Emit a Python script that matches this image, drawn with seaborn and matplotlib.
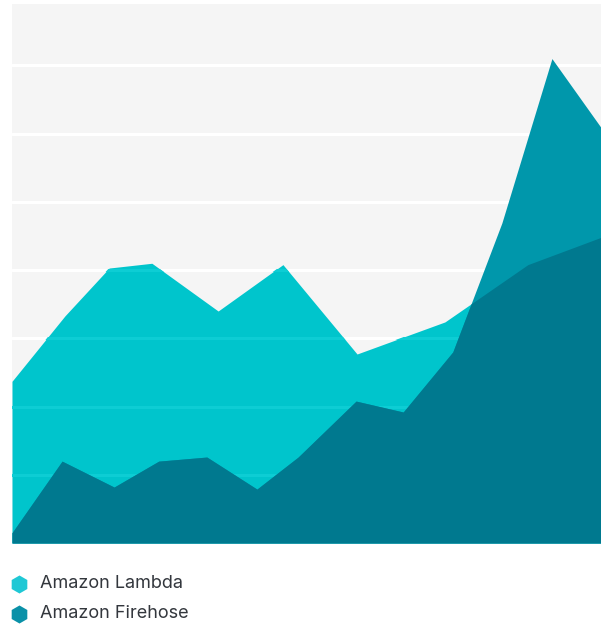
import numpy as np
import seaborn as sns
import matplotlib.pyplot as plt
from matplotlib.lines import Line2D

# series (x in period units, y in gridline units of 10)
lambda_x = [0, 1.08, 1.98, 2.85, 4.2, 5.52, 7.03, 8.82, 10.51, 12.0]
lambda_y = [23.7, 33.3, 40.3, 41.0, 34.0, 40.8, 27.7, 32.4, 40.8, 44.8]
firehose_x = [0, 1.02, 2.08, 2.99, 3.97, 4.99, 5.83, 7.01, 7.97, 8.98, 9.98, 11.0, 12.0]
firehose_y = [1.5, 12.0, 8.2, 12.0, 12.6, 7.9, 12.6, 20.8, 19.2, 28.0, 46.9, 71.0, 60.9]
labels = ["Amazon Lambda", "Amazon Firehose"]

cyan = "#00C5CC"
teal_mid = "#0097AB"
teal_dark = "#00798F"
bg = "#F5F5F5"

sns.set_theme(style="whitegrid", rc={"axes.facecolor": bg, "grid.color": "white",
                                     "grid.linewidth": 2.2})
plt.rcParams["font.family"] = ["Inter", "DejaVu Sans"]

fig = plt.figure(figsize=(6.01, 6.27), dpi=100)
ax = fig.add_axes([12 / 601, 84 / 627, 589 / 601, 539 / 627])
ax.set_axisbelow(True)

# Lambda area
poly = ax.fill_between(lambda_x, 0, lambda_y, color=cyan, lw=0, zorder=1)

# grid lines showing lightly through the Lambda area
for gy in range(10, 80, 10):
    ln = ax.axhline(gy, color="#0DCDD4", lw=2.2, zorder=1.5)
    ln.set_clip_path(poly.get_paths()[0], transform=ax.transData)

# Firehose area and the overlap of the two
ax.fill_between(firehose_x, 0, firehose_y, color=teal_mid, lw=0, zorder=2)
xs = np.union1d(np.linspace(0, 12, 3000), np.union1d(lambda_x, firehose_x))
overlap = np.minimum(np.interp(xs, lambda_x, lambda_y), np.interp(xs, firehose_x, firehose_y))
ax.fill_between(xs, 0, overlap, color=teal_dark, lw=0, zorder=3)

ax.set_xlim(0, 12)
ax.set_ylim(0, 79)
ax.set_yticks(range(10, 80, 10))
ax.set_xticks([])
ax.grid(axis="x", visible=False)
ax.tick_params(left=False, bottom=False, labelleft=False, labelbottom=False)
sns.despine(ax=ax, left=True, bottom=True)

# legend
marker_colors = ["#1FC8D5", "#0A91A8"]
for i, (lab, mc) in enumerate(zip(labels, marker_colors)):
    yy = 1 - (584 + 30 * i) / 627
    fig.add_artist(Line2D([19 / 601], [yy], marker="h", ms=13, color=mc, mec="none",
                          transform=fig.transFigure))
    fig.text(40 / 601, yy, lab, va="center", ha="left", fontsize=13, color="#33373D")

fig.savefig("out.png", dpi=100)
